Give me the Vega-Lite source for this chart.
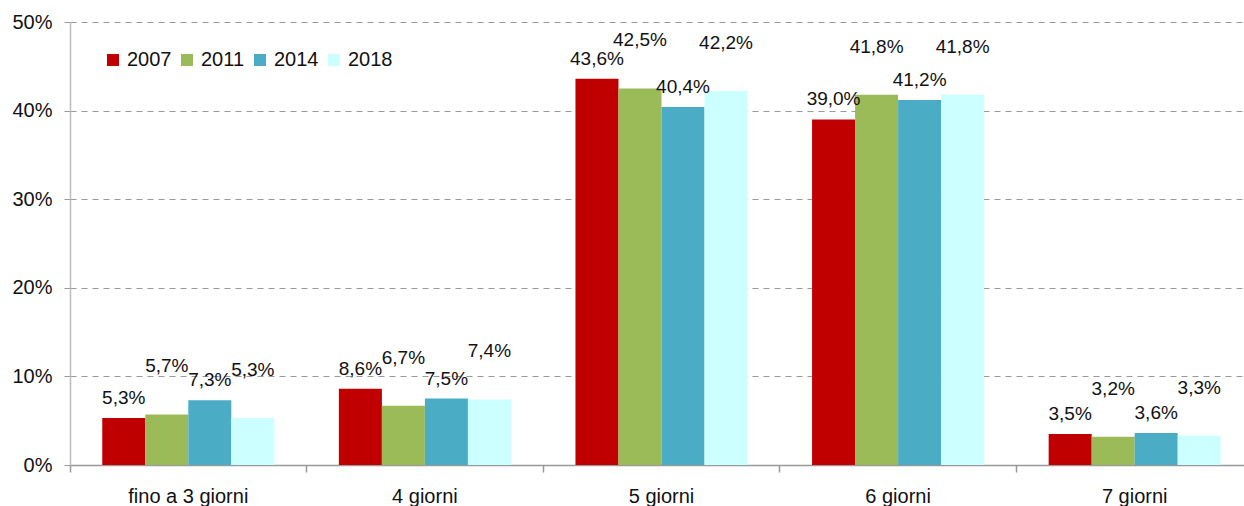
{
  "$schema": "https://vega.github.io/schema/vega-lite/v6.json",
  "autosize": {"type": "none"},
  "width": 1174,
  "height": 443,
  "padding": {"left": 70, "top": 22, "right": 0, "bottom": 41},
  "background": "white",
  "config": {
    "locale": {"number": {"decimal": ",", "thousands": ".", "grouping": [3], "currency": ["", " €"]}},
    "font": "Liberation Sans",
    "view": {"stroke": null}
  },
  "data": {
    "values": [
      {"giorni": "fino a 3 giorni", "anno": "2007", "valore": 0.053},
      {"giorni": "fino a 3 giorni", "anno": "2011", "valore": 0.057},
      {"giorni": "fino a 3 giorni", "anno": "2014", "valore": 0.073},
      {"giorni": "fino a 3 giorni", "anno": "2018", "valore": 0.053},
      {"giorni": "4 giorni", "anno": "2007", "valore": 0.086},
      {"giorni": "4 giorni", "anno": "2011", "valore": 0.067},
      {"giorni": "4 giorni", "anno": "2014", "valore": 0.075},
      {"giorni": "4 giorni", "anno": "2018", "valore": 0.074},
      {"giorni": "5 giorni", "anno": "2007", "valore": 0.436},
      {"giorni": "5 giorni", "anno": "2011", "valore": 0.425},
      {"giorni": "5 giorni", "anno": "2014", "valore": 0.404},
      {"giorni": "5 giorni", "anno": "2018", "valore": 0.422},
      {"giorni": "6 giorni", "anno": "2007", "valore": 0.390},
      {"giorni": "6 giorni", "anno": "2011", "valore": 0.418},
      {"giorni": "6 giorni", "anno": "2014", "valore": 0.412},
      {"giorni": "6 giorni", "anno": "2018", "valore": 0.418},
      {"giorni": "7 giorni", "anno": "2007", "valore": 0.035},
      {"giorni": "7 giorni", "anno": "2011", "valore": 0.032},
      {"giorni": "7 giorni", "anno": "2014", "valore": 0.036},
      {"giorni": "7 giorni", "anno": "2018", "valore": 0.033}
    ]
  },
  "encoding": {
    "x": {
      "field": "giorni",
      "type": "nominal",
      "sort": ["fino a 3 giorni", "4 giorni", "5 giorni", "6 giorni", "7 giorni"],
      "scale": {"paddingInner": 0, "paddingOuter": 0, "range": [0, 1183]},
      "axis": {
        "title": null,
        "labelAngle": 0,
        "bandPosition": 0,
        "labelFontSize": 20,
        "labelColor": "#111",
        "labelPadding": 14,
        "labelBaseline": "top",
        "tickSize": 7,
        "tickColor": "#999",
        "domainColor": "#999",
        "domainWidth": 1.5,
        "tickWidth": 1.5,
        "grid": false
      }
    },
    "xOffset": {
      "field": "anno",
      "type": "nominal",
      "scale": {"paddingInner": 0, "paddingOuter": 0.75}
    },
    "y": {
      "field": "valore",
      "type": "quantitative",
      "scale": {"domain": [0, 0.5], "nice": false},
      "axis": {
        "title": null,
        "values": [0, 0.1, 0.2, 0.3, 0.4, 0.5],
        "format": ".0%",
        "labelFontSize": 20,
        "labelColor": "#111",
        "labelPadding": 12,
        "tickSize": 6,
        "tickColor": "#999",
        "domainColor": "#bbb",
        "domainWidth": 1.5,
        "grid": true,
        "gridColor": "#999",
        "gridDash": [6, 5],
        "gridWidth": 1
      }
    }
  },
  "layer": [
    {
      "mark": {"type": "bar"},
      "encoding": {
        "color": {
          "field": "anno",
          "type": "nominal",
          "scale": {"domain": ["2007", "2011", "2014", "2018"], "range": ["#C00000", "#9BBB59", "#4BACC6", "#CCFFFF"]},
          "legend": {
            "title": null,
            "orient": "none",
            "legendX": 33,
            "legendY": 28,
            "direction": "horizontal",
            "symbolType": "square",
            "symbolSize": 144,
            "symbolStrokeWidth": 0,
            "labelFontSize": 20,
            "labelColor": "#111",
            "labelOffset": 4,
            "columnPadding": 5,
            "padding": 0
          }
        }
      }
    },
    {
      "transform": [{"filter": "datum.anno == '2007' || datum.anno == '2014'"}],
      "mark": {"type": "text", "baseline": "bottom", "dy": -10, "fontSize": 19, "color": "#111"},
      "encoding": {
        "text": {"field": "valore", "type": "quantitative", "format": ".1%"}
      }
    },
    {
      "transform": [{"filter": "datum.anno == '2011' || datum.anno == '2018'"}],
      "mark": {"type": "text", "baseline": "bottom", "dy": -38, "fontSize": 19, "color": "#111"},
      "encoding": {
        "text": {"field": "valore", "type": "quantitative", "format": ".1%"}
      }
    }
  ]
}
